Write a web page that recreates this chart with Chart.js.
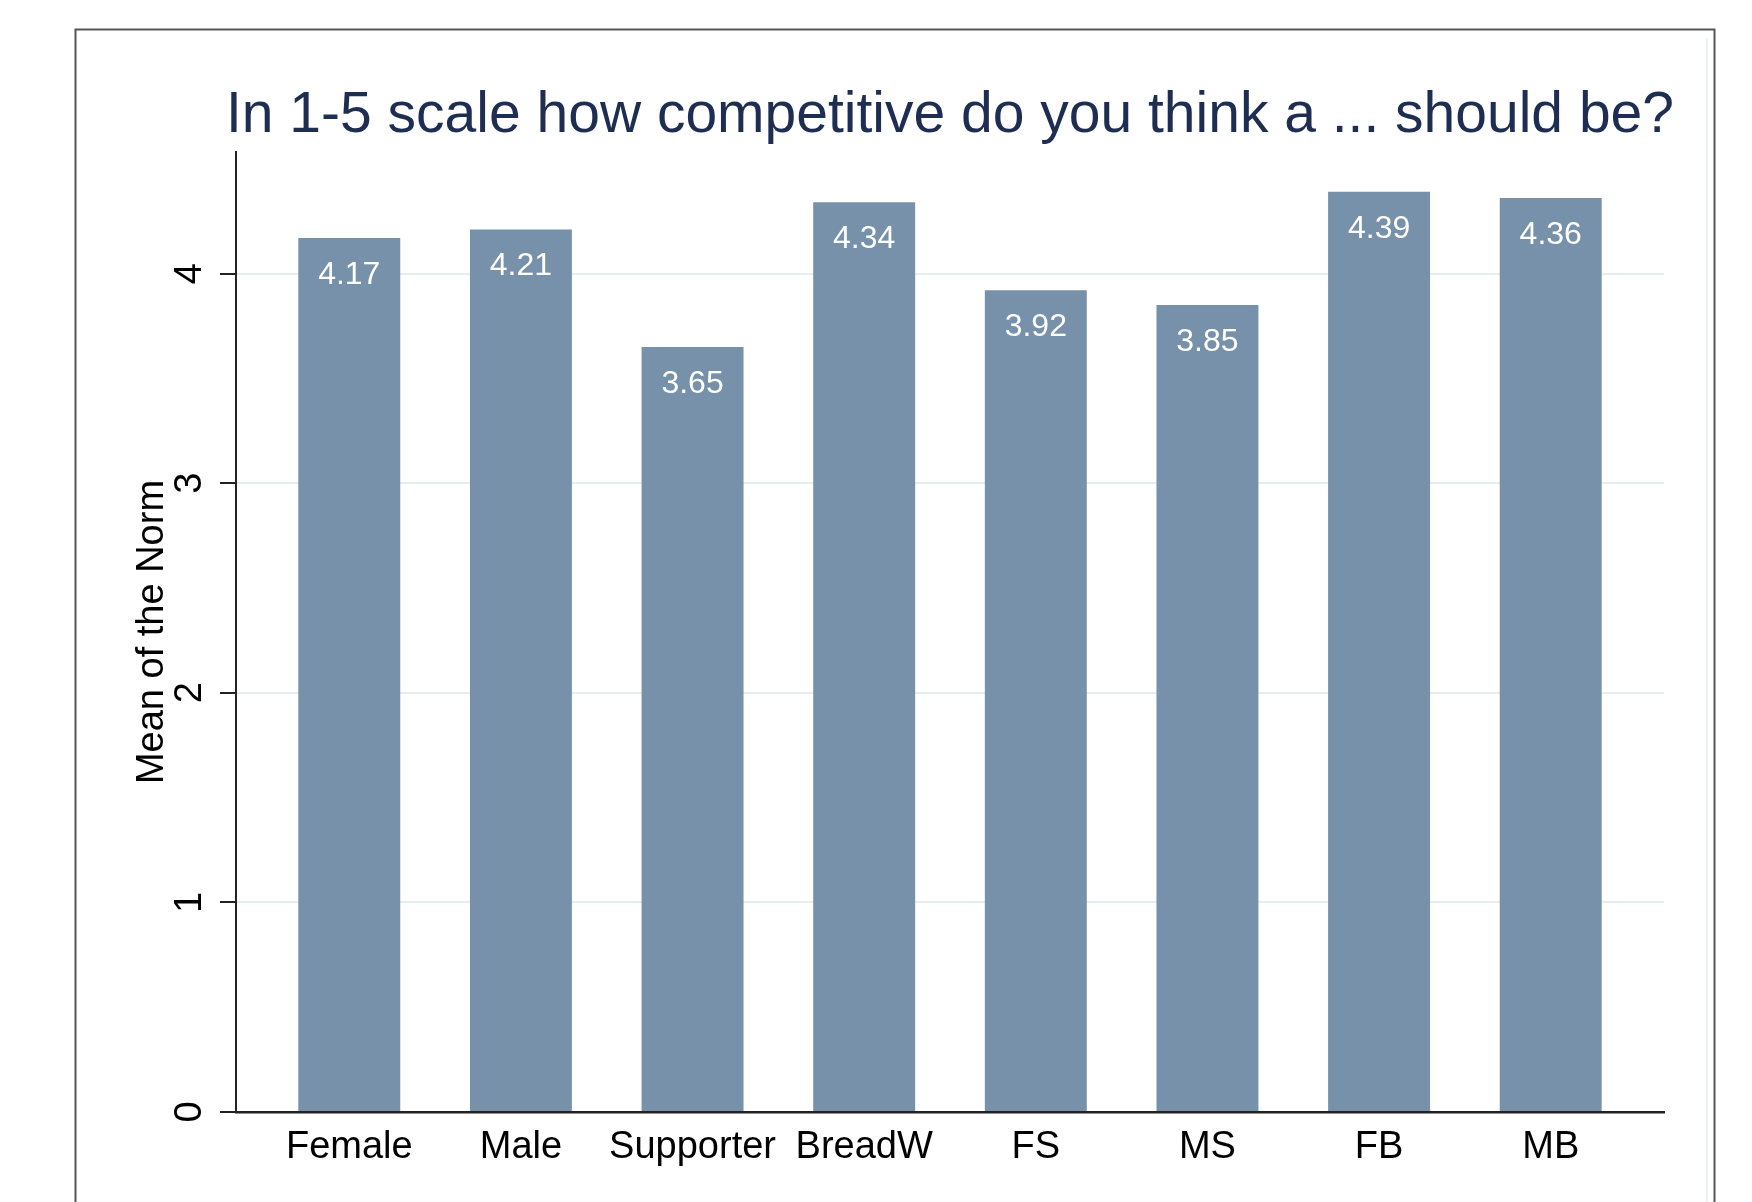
<!DOCTYPE html>
<html>
<head>
<meta charset="utf-8">
<script src="https://cdn.jsdelivr.net/npm/chart.js@4.4.1/dist/chart.umd.min.js"></script>
<style>
  html, body { margin: 0; padding: 0; background: #ffffff; }
  canvas { display: block; }
</style>
</head>
<body>
<canvas id="normChart" width="1752" height="1202"></canvas>
<script>
// Mean competitiveness norm (1-5 scale) by group
const categories = ['Female', 'Male', 'Supporter', 'BreadW', 'FS', 'MS', 'FB', 'MB'];
const meanNorm = [4.17, 4.21, 3.65, 4.34, 3.92, 3.85, 4.39, 4.36];
const yTicks = [0, 1, 2, 3, 4];
const chartTitle = 'In 1-5 scale how competitive do you think a ... should be?';
const yAxisTitle = 'Mean of the Norm';

const FONT = '"Liberation Sans", Arial, Helvetica, sans-serif';
const BAR_COLOR = '#7691a9';
const AXIS_COLOR = '#222222';
const GRID_COLOR = '#e4eef0';

Chart.defaults.font.family = FONT;
Chart.defaults.color = '#000000';

// White background plus the outer graph frame
const framePlugin = {
  id: 'frame',
  beforeDraw(chart) {
    const ctx = chart.ctx;
    ctx.save();
    ctx.fillStyle = '#ffffff';
    ctx.fillRect(0, 0, chart.width, chart.height);
    ctx.strokeStyle = '#555555';
    ctx.lineWidth = 2;
    ctx.beginPath();
    ctx.moveTo(75.5, chart.height + 5);
    ctx.lineTo(75.5, 29.5);
    ctx.lineTo(1714.5, 29.5);
    ctx.lineTo(1714.5, chart.height + 5);
    ctx.stroke();
    // faint plot-region edge
    ctx.strokeStyle = '#e6eef1';
    ctx.lineWidth = 1.5;
    ctx.beginPath();
    ctx.moveTo(1707, 38);
    ctx.lineTo(1707, chart.height + 5);
    ctx.stroke();
    ctx.restore();
  }
};

// Title centred over the plot area
const headingPlugin = {
  id: 'heading',
  afterDraw(chart) {
    const { ctx, chartArea } = chart;
    ctx.save();
    ctx.font = '57px ' + FONT;
    ctx.fillStyle = '#1e2d52';
    ctx.textAlign = 'center';
    ctx.textBaseline = 'alphabetic';
    ctx.fillText(chartTitle, (chartArea.left + chartArea.right) / 2, chartArea.top - 20);
    ctx.restore();
  }
};

// Value labels printed inside the top of each bar
const valueLabelPlugin = {
  id: 'valueLabels',
  afterDatasetsDraw(chart) {
    const ctx = chart.ctx;
    const meta = chart.getDatasetMeta(0);
    ctx.save();
    ctx.font = '32px ' + FONT;
    ctx.fillStyle = '#ffffff';
    ctx.textAlign = 'center';
    ctx.textBaseline = 'middle';
    meta.data.forEach((bar, i) => {
      ctx.fillText(meanNorm[i].toFixed(2), bar.x, bar.y + 37);
    });
    ctx.restore();
  }
};

new Chart(document.getElementById('normChart'), {
  type: 'bar',
  data: {
    datasets: [{
      data: categories.map((c, i) => ({ x: i, y: meanNorm[i] })),
      backgroundColor: BAR_COLOR,
      borderWidth: 0,
      barPercentage: 0.594,
      categoryPercentage: 1.0
    }]
  },
  options: {
    responsive: false,
    animation: false,
    devicePixelRatio: 1,
    layout: { padding: { left: 80, right: 88, top: 152, bottom: 0 } },
    plugins: {
      legend: { display: false },
      title: { display: false },
      tooltip: { enabled: false }
    },
    scales: {
      x: {
        type: 'linear',
        offset: false,
        min: -0.66,
        max: 7.66,
        afterBuildTicks(scale) {
          scale.ticks = categories.map((c, i) => ({ value: i }));
        },
        afterFit(scale) { scale.height = 90; },
        grid: { offset: false, drawOnChartArea: false, drawTicks: false, color: 'rgba(0,0,0,0)' },
        border: { display: true, color: AXIS_COLOR, width: 2.5 },
        ticks: {
          autoSkip: false,
          maxRotation: 0,
          minRotation: 0,
          padding: 13,
          color: '#000000',
          font: { size: 38 },
          callback: (v) => categories[v] ?? ''
        }
      },
      y: {
        type: 'linear',
        min: 0,
        max: 4.58,
        afterBuildTicks(scale) {
          scale.ticks = yTicks.map(v => ({ value: v }));
        },
        afterFit(scale) { scale.width = 156; },
        grid: {
          color: GRID_COLOR,
          lineWidth: 2,
          drawTicks: true,
          tickLength: 16,
          tickColor: AXIS_COLOR,
          tickWidth: 2
        },
        border: { display: true, color: AXIS_COLOR, width: 2 },
        ticks: {
          minRotation: 90,
          maxRotation: 90,
          crossAlign: 'center',
          padding: 19,
          color: '#000000',
          font: { size: 38 },
          callback: (v) => String(v)
        },
        title: {
          display: true,
          text: yAxisTitle,
          color: '#000000',
          font: { size: 38 },
          padding: { top: 50, bottom: 0 }
        }
      }
    }
  },
  plugins: [framePlugin, headingPlugin, valueLabelPlugin]
});
</script>
</body>
</html>
